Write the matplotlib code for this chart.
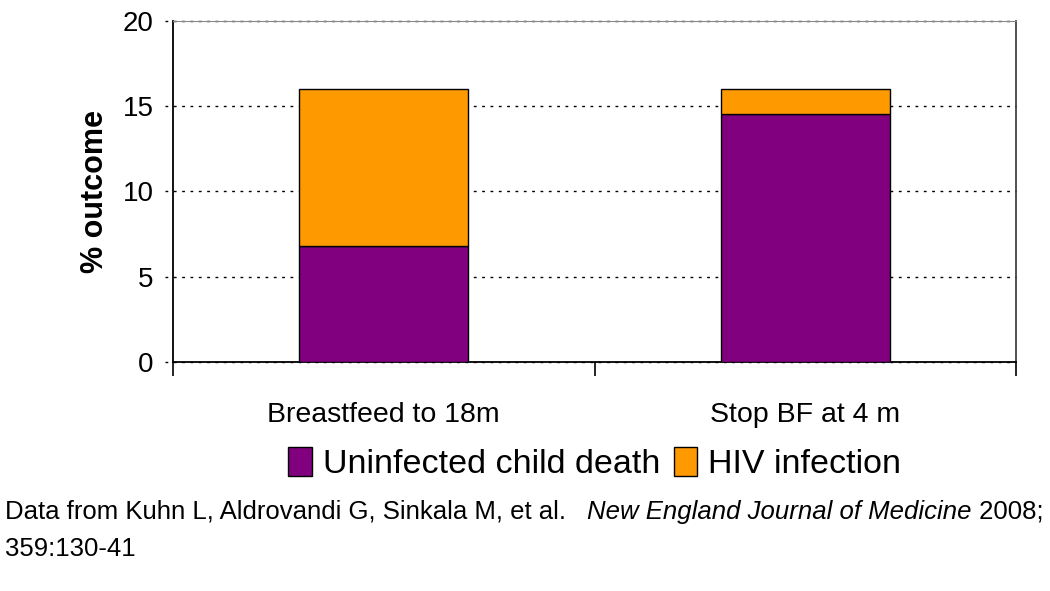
import matplotlib
matplotlib.use("Agg")
import matplotlib.pyplot as plt
import numpy as np

plt.rcParams['font.family'] = ['Liberation Sans', 'DejaVu Sans']

categories = ['Breastfeed to 18m', 'Stop BF at 4 m']
uninfected_death = [6.8, 14.55]
hiv_infection = [9.2, 1.45]
series_names = ['Uninfected child death', 'HIV infection']
yticks = [0, 5, 10, 15, 20]

fig = plt.figure(figsize=(10.5, 5.91), dpi=100)
ax = fig.add_axes([0.1648, 0.3875, 0.8028, 0.577])

x = np.arange(len(categories))
ax.bar(x, uninfected_death, width=0.4, color='#800080', edgecolor='black', linewidth=1, label=series_names[0], zorder=3)
ax.bar(x, hiv_infection, width=0.4, bottom=uninfected_death, color='#FF9900', edgecolor='black', linewidth=1, label=series_names[1], zorder=3)

ax.set_xlim(-0.5, len(categories) - 0.5)
ax.set_ylim(0, 20)
ax.set_yticks(yticks)
ax.set_yticklabels([str(v) for v in yticks], fontsize=20)
# dotted gridlines that also poke out left of the axis, like the tick marks
ax.hlines(yticks, -0.009, 1, transform=ax.get_yaxis_transform(), linestyles=(0, (2, 4)),
          colors='black', linewidth=1, clip_on=False, zorder=1)

# category boundary ticks below the axis
ax.set_xticks(np.arange(-0.5, len(categories), 1.0))
ax.set_xticklabels([])
ax.set_xticks(x, minor=True)
ax.set_xticklabels(categories, minor=True, fontsize=20.5)
ax.tick_params(axis='x', which='major', direction='out', length=10, width=1.2)
ax.tick_params(axis='x', which='minor', length=0, pad=29)
ax.tick_params(axis='y', length=0, pad=14)

ax.spines['top'].set_color('#888888')
ax.spines['top'].set_linewidth(0.8)
ax.spines['right'].set_color('#333333')
ax.spines['right'].set_linewidth(1.2)
for s in ['left', 'bottom']:
    ax.spines[s].set_linewidth(1.3)

ax.set_ylabel('% outcome', fontsize=22, fontweight='bold', labelpad=9)

ax.legend(loc='center', bbox_to_anchor=(0.5, -0.298), ncol=2, frameon=False, fontsize=24.5,
          handlelength=0.7, handleheight=0.95, handletextpad=0.3, columnspacing=0.4)

# footnote with italic journal name
fig.canvas.draw()
r = fig.canvas.get_renderer()
y1 = 1 - 512 / 591
t1 = fig.text(5 / 1050, y1, 'Data from Kuhn L, Aldrovandi G, Sinkala M, et al.   ', fontsize=18.5, va='center')
bb = t1.get_window_extent(r)
t2 = fig.text(bb.x1 / 1050, y1, 'New England Journal of Medicine', fontsize=18.5, style='italic', va='center')
bb2 = t2.get_window_extent(r)
fig.text(bb2.x1 / 1050, y1, ' 2008;', fontsize=18.5, va='center')
fig.text(5 / 1050, 1 - 549 / 591, '359:130-41', fontsize=18.5, va='center')

fig.savefig('out.png', dpi=100)
